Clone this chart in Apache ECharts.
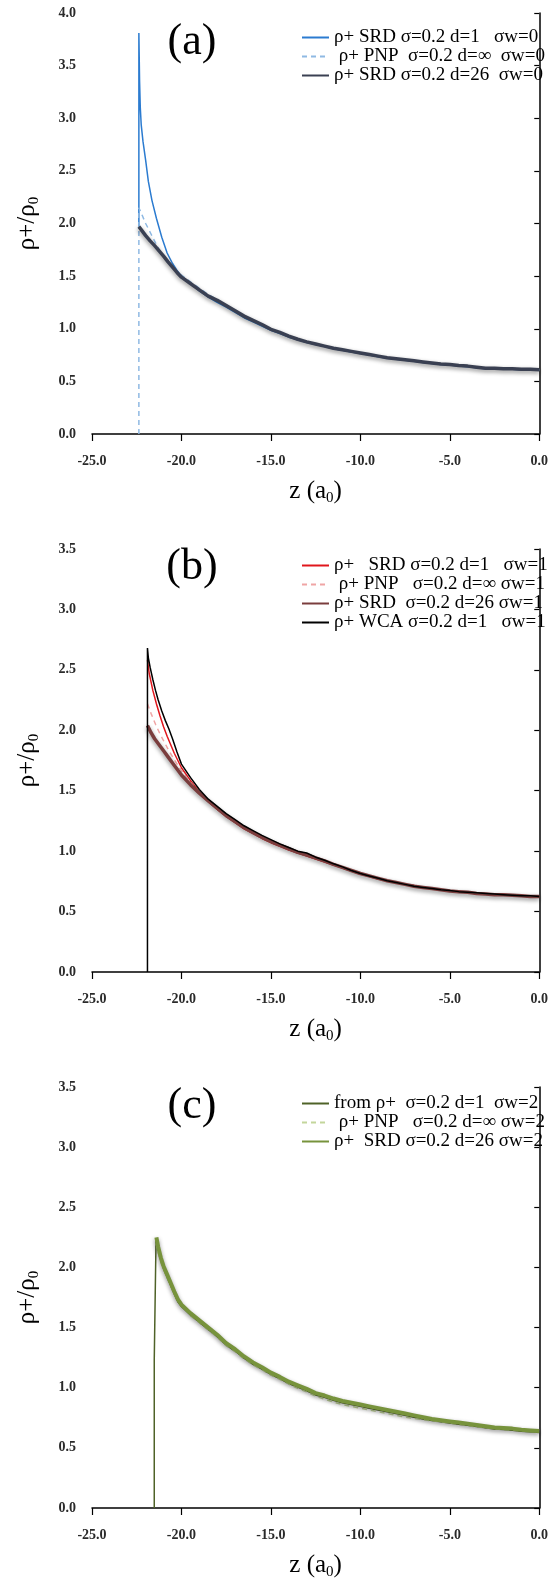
<!DOCTYPE html>
<html>
<head>
<meta charset="utf-8">
<script src="https://cdn.jsdelivr.net/npm/echarts@6/dist/echarts.min.js"></script>
<style>html,body{margin:0;padding:0;background:#fff}#c{width:551px;height:1585px}</style>
</head>
<body>
<div id="c"></div>
<script>
// common z grid for the body of every curve
var zBody = [-20,-19.5,-19,-18.5,-18,-17.5,-17,-16.5,-16,-15.5,-15,-14.5,-14,-13.5,-13,-12.5,-12,-11.5,-11,-10.5,-10,-9.5,-9,-8.5,-8,-7.5,-7,-6.5,-6,-5.5,-5,-4.5,-4,-3.5,-3,-2.5,-2,-1.5,-1,-0.5,0];
var xTicks = [-25,-20,-15,-10,-5,0];

// ---- panel (a) ----
var aNames = ['ρ+ SRD σ=0.2 d=1   σw=0', ' ρ+ PNP  σ=0.2 d=∞  σw=0', 'ρ+ SRD σ=0.2 d=26  σw=0'];
var aSrd1HeadZ = [-22.38,-22.38,-22.34,-22.3,-22.25,-22.15,-22.0,-21.85,-21.65,-21.4,-21.1,-20.8,-20.5,-20.25];
var aSrd1HeadV = [1.97,3.81,3.35,3.1,2.94,2.78,2.6,2.4,2.22,2.05,1.87,1.72,1.62,1.555];
var aSrd1Body = [1.50,1.43,1.36,1.30,1.25,1.205,1.155,1.105,1.065,1.025,0.985,0.955,0.92,0.895,0.87,0.85,0.83,0.81,0.795,0.78,0.765,0.75,0.735,0.72,0.71,0.70,0.69,0.68,0.67,0.66,0.655,0.645,0.64,0.63,0.62,0.62,0.615,0.615,0.61,0.61,0.605];
var aPnpHeadZ = [-22.38,-22.38,-22.2,-22.0,-21.7,-21.4,-21.1,-20.8,-20.5,-20.25];
var aPnpHeadV = [0,2.15,2.08,2.0,1.9,1.8,1.71,1.64,1.585,1.54];
var aPnpBody = [1.51,1.445,1.385,1.325,1.275,1.225,1.175,1.125,1.085,1.04,1.0,0.965,0.93,0.90,0.875,0.855,0.835,0.815,0.80,0.785,0.77,0.755,0.74,0.725,0.715,0.705,0.695,0.685,0.675,0.665,0.66,0.65,0.645,0.635,0.63,0.625,0.62,0.62,0.615,0.615,0.61];
var aSrd26HeadZ = [-22.38,-22.2,-22.0,-21.75,-21.5,-21.25,-21.0,-20.75,-20.5,-20.25];
var aSrd26HeadV = [1.97,1.93,1.885,1.835,1.79,1.74,1.69,1.635,1.585,1.535];
var aSrd26Body = [1.49,1.43,1.37,1.31,1.27,1.22,1.17,1.12,1.08,1.04,0.995,0.965,0.93,0.90,0.875,0.855,0.835,0.815,0.80,0.785,0.77,0.755,0.74,0.725,0.715,0.705,0.695,0.685,0.675,0.665,0.66,0.65,0.645,0.635,0.625,0.625,0.62,0.62,0.615,0.615,0.61];

// ---- panel (b) ----
var bNames = ['ρ+   SRD σ=0.2 d=1   σw=1', ' ρ+ PNP   σ=0.2 d=∞ σw=1', 'ρ+ SRD  σ=0.2 d=26 σw=1', 'ρ+ WCA σ=0.2 d=1   σw=1'];
var bSrd1HeadZ = [-21.9,-21.8,-21.6,-21.4,-21.2,-21.0,-20.8,-20.6,-20.4,-20.2];
var bSrd1HeadV = [2.58,2.47,2.33,2.22,2.12,2.03,1.95,1.88,1.81,1.75];
var bSrd1Body = [1.69,1.585,1.49,1.41,1.345,1.285,1.235,1.185,1.145,1.105,1.07,1.04,1.01,0.985,0.96,0.935,0.91,0.885,0.86,0.835,0.81,0.79,0.77,0.755,0.74,0.725,0.715,0.70,0.69,0.68,0.67,0.665,0.66,0.65,0.645,0.64,0.635,0.635,0.63,0.625,0.625];
var bPnpHeadZ = [-21.9,-21.7,-21.45,-21.2,-20.95,-20.7,-20.45,-20.2];
var bPnpHeadV = [2.22,2.14,2.05,1.97,1.9,1.83,1.77,1.71];
var bPnpBody = [1.665,1.57,1.485,1.41,1.35,1.29,1.24,1.19,1.15,1.11,1.075,1.045,1.015,0.985,0.965,0.94,0.915,0.888,0.862,0.838,0.812,0.792,0.772,0.755,0.74,0.725,0.712,0.70,0.69,0.68,0.672,0.665,0.66,0.652,0.646,0.64,0.636,0.634,0.63,0.626,0.624];
var bSrd26HeadZ = [-21.9,-21.7,-21.5,-21.25,-21.0,-20.75,-20.5,-20.25];
var bSrd26HeadV = [2.04,1.98,1.93,1.88,1.83,1.78,1.73,1.68];
var bSrd26Body = [1.63,1.55,1.48,1.415,1.355,1.295,1.245,1.195,1.155,1.115,1.08,1.05,1.02,0.99,0.97,0.945,0.92,0.89,0.865,0.84,0.815,0.795,0.775,0.755,0.74,0.725,0.71,0.70,0.69,0.68,0.67,0.665,0.66,0.65,0.645,0.64,0.64,0.635,0.63,0.625,0.625];
var bWcaHeadZ = [-21.9,-21.9,-21.85,-21.75,-21.6,-21.45,-21.3,-21.1,-20.9,-20.7,-20.5,-20.25];
var bWcaHeadV = [0,2.68,2.6,2.52,2.42,2.33,2.25,2.16,2.08,2.01,1.93,1.82];
var bWcaBody = [1.72,1.61,1.51,1.43,1.37,1.31,1.26,1.21,1.17,1.13,1.095,1.06,1.03,1.0,0.985,0.95,0.925,0.895,0.87,0.84,0.815,0.795,0.775,0.755,0.74,0.725,0.71,0.70,0.69,0.68,0.675,0.665,0.66,0.655,0.65,0.645,0.64,0.635,0.63,0.63,0.625];

// ---- panel (c) ----
var cNames = ['from ρ+  σ=0.2 d=1  σw=2', ' ρ+ PNP   σ=0.2 d=∞ σw=2', 'ρ+  SRD σ=0.2 d=26 σw=2'];
var cFromHeadZ = [-21.52,-21.52,-21.47,-21.42,-21.3,-21.15,-21.0,-20.8,-20.6,-20.4,-20.2];
var cFromHeadV = [0,1.23,1.23,2.24,2.15,2.06,1.99,1.92,1.85,1.78,1.715];
var cFromBody = [1.675,1.605,1.545,1.485,1.425,1.355,1.305,1.245,1.195,1.155,1.11,1.075,1.035,1.005,0.975,0.94,0.92,0.895,0.875,0.86,0.845,0.83,0.815,0.80,0.785,0.77,0.755,0.74,0.727,0.717,0.707,0.697,0.687,0.677,0.667,0.657,0.652,0.647,0.638,0.633,0.628];
var cPnpHeadZ = [-21.42,-21.3,-21.1,-20.9,-20.7,-20.5,-20.25];
var cPnpHeadV = [2.2,2.12,2.02,1.95,1.88,1.81,1.74];
var cPnpBody = [1.68,1.60,1.54,1.48,1.42,1.35,1.30,1.24,1.19,1.15,1.105,1.07,1.03,0.995,0.965,0.93,0.905,0.88,0.86,0.845,0.83,0.815,0.80,0.785,0.77,0.755,0.745,0.735,0.725,0.715,0.705,0.695,0.685,0.675,0.665,0.658,0.652,0.646,0.64,0.635,0.632];
var cSrd26HeadZ = [-21.4,-21.3,-21.15,-21.0,-20.8,-20.6,-20.4,-20.2];
var cSrd26HeadV = [2.25,2.17,2.08,2.01,1.94,1.87,1.80,1.735];
var cSrd26Body = [1.69,1.62,1.56,1.50,1.44,1.37,1.32,1.26,1.21,1.17,1.125,1.09,1.05,1.02,0.99,0.955,0.935,0.91,0.89,0.875,0.86,0.845,0.83,0.815,0.80,0.785,0.77,0.755,0.74,0.73,0.72,0.71,0.70,0.69,0.68,0.67,0.665,0.66,0.65,0.645,0.64];

function build(hz, hv, body) {
  return hz.map(function (z, i) { return [z, hv[i]]; })
    .concat(zBody.map(function (z, i) { return [z, body[i]]; }));
}

var SERIF = '"Liberation Serif", "DejaVu Serif", serif';
var grids = [
  {left: 92, top: 13, width: 448, height: 421},
  {left: 92, top: 549, width: 448, height: 423},
  {left: 92, top: 1087, width: 448, height: 421}
];
var yMax = [4, 3.5, 3.5];

function xAxisCfg(i) {
  return {
    type: 'value', gridIndex: i, min: -25, max: 0, interval: 5,
    axisLine: {lineStyle: {color: '#000', width: 1.5}},
    axisTick: {show: true, length: 7, lineStyle: {color: '#000', width: 1.2}},
    splitLine: {show: false},
    axisLabel: {margin: 20, fontFamily: SERIF, fontSize: 14, color: '#2a2a2a', fontWeight: 'bold',
      formatter: function (v) { return v.toFixed(1); }},
    name: 'z (a{s|0})', nameLocation: 'middle', nameGap: 42,
    nameTextStyle: {fontFamily: SERIF, fontSize: 25, color: '#000', lineHeight: 30,
      rich: {s: {fontFamily: SERIF, fontSize: 15, lineHeight: 30, verticalAlign: 'bottom', color: '#000'}}}
  };
}
function yAxisCfg(i) {
  return {
    type: 'value', gridIndex: i, min: 0, max: yMax[i], interval: 0.5,
    axisLine: {show: true, lineStyle: {color: '#000', width: 1.5}},
    axisTick: {show: true, length: 5, lineStyle: {color: '#000', width: 1.2}},
    splitLine: {show: false},
    axisLabel: {margin: 16, fontFamily: SERIF, fontSize: 14, color: '#2a2a2a', fontWeight: 'bold',
      formatter: function (v) { return v.toFixed(1); }},
    name: '{n|ρ+/ρ}{s|0}', nameLocation: 'middle', nameGap: 50, nameRotate: 90,
    nameTextStyle: {rich: {
      n: {fontFamily: SERIF, fontSize: 25, lineHeight: 30, color: '#000'},
      s: {fontFamily: SERIF, fontSize: 15, lineHeight: 30, verticalAlign: 'bottom', color: '#000'}}}
  };
}
function legendCfg(names, top) {
  return {
    data: names, orient: 'vertical', left: 301, top: top, padding: 0,
    itemGap: 0, itemWidth: 27, itemHeight: 12, selectedMode: false,
    itemStyle: {opacity: 0},
    textStyle: {fontFamily: SERIF, fontSize: 19, color: '#000', lineHeight: 17.5}
  };
}
function line(name, gi, data, color, width, dashed, shadow) {
  var ls = {color: color, width: width, type: dashed ? [5, 4] : 'solid'};
  if (shadow) { ls.shadowColor = 'rgba(0,0,0,0.45)'; ls.shadowBlur = 4; ls.shadowOffsetY = 2; }
  return {name: name, type: 'line', xAxisIndex: gi, yAxisIndex: gi, data: data,
    symbol: 'none', showSymbol: false, lineStyle: ls, itemStyle: {color: color}, animation: false};
}

var option = {
  animation: false,
  backgroundColor: '#fff',
  grid: grids,
  xAxis: [xAxisCfg(0), xAxisCfg(1), xAxisCfg(2)],
  yAxis: [yAxisCfg(0), yAxisCfg(1), yAxisCfg(2)],
  legend: [legendCfg(aNames, 28), legendCfg(bNames, 556), legendCfg(cNames, 1094)],
  graphic: [
    {type: 'text', x: 192, y: 42, style: {text: '(a)', font: '44px ' + SERIF, fill: '#000', align: 'center', verticalAlign: 'middle'}},
    {type: 'text', x: 192, y: 567, style: {text: '(b)', font: '44px ' + SERIF, fill: '#000', align: 'center', verticalAlign: 'middle'}},
    {type: 'text', x: 192, y: 1106, style: {text: '(c)', font: '44px ' + SERIF, fill: '#000', align: 'center', verticalAlign: 'middle'}}
  ],
  series: [
    line(aNames[0], 0, build(aSrd1HeadZ, aSrd1HeadV, aSrd1Body), '#2b7bd0', 1.5, false, false),
    line(aNames[1], 0, build(aPnpHeadZ, aPnpHeadV, aPnpBody), '#8fb9e3', 1.5, true, false),
    line(aNames[2], 0, build(aSrd26HeadZ, aSrd26HeadV, aSrd26Body), '#3a4052', 3.5, false, true),
    line(bNames[0], 1, build(bSrd1HeadZ, bSrd1HeadV, bSrd1Body), '#e0161c', 1.5, false, false),
    line(bNames[1], 1, build(bPnpHeadZ, bPnpHeadV, bPnpBody), '#f0a5a5', 1.5, true, false),
    line(bNames[2], 1, build(bSrd26HeadZ, bSrd26HeadV, bSrd26Body), '#7a3d3d', 3.5, false, true),
    line(bNames[3], 1, build(bWcaHeadZ, bWcaHeadV, bWcaBody), '#000000', 1.5, false, false),
    line(cNames[0], 2, build(cFromHeadZ, cFromHeadV, cFromBody), '#4f6228', 1.5, false, false),
    line(cNames[1], 2, build(cPnpHeadZ, cPnpHeadV, cPnpBody), '#c3d69b', 1.5, true, false),
    line(cNames[2], 2, build(cSrd26HeadZ, cSrd26HeadV, cSrd26Body), '#77933c', 4, false, true)
  ]
};
var chart = echarts.init(document.getElementById('c'), null, {renderer: 'canvas'});
chart.setOption(option);
</script>
</body>
</html>
